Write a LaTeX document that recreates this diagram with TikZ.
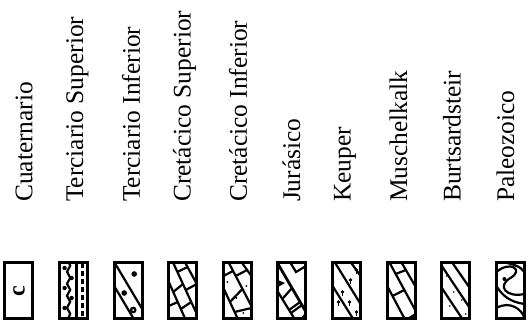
\documentclass[tikz,border=0pt]{standalone}
\usepackage{tikz}
\usepackage{fontspec}
\setmainfont{Liberation Serif}
\usetikzlibrary{positioning,decorations.pathmorphing}

\begin{document}
\begin{tikzpicture}[x=0.5pt,y=-0.5pt,
    every node/.style={inner sep=0pt},
    lab/.style={rotate=90,anchor=west,font=\fontsize{12.7}{15}\selectfont},
    rock/.style={draw,line width=1.5pt,minimum width=14pt,minimum height=28pt,outer sep=0pt},
    line width=1.1pt
  ]
  \useasboundingbox (0,0) rectangle (527,327);

  % the labels
  \foreach \t [count=\i] in {Cuaternario,Terciario Superior,Terciario Inferior,Cretácico Superior,Cretácico Inferior,Jurásico,Keuper,Muschelkalk,Burtsardsteir,Paleozoico}
    \node[lab] (l\i) at ({24+53.5*(\i-1)},203) {\t};

  % the boxes
  \foreach \i in {1,2,...,10}
    \node[rock] (b\i) at ({19+54.6*(\i-1)},290) {};

  % Cuaternario
  \begin{scope}[shift={(b1.north west)}]
    \node[rotate=90,font=\fontsize{12}{12}\selectfont\bfseries] (c1) at (14,29) {c};
  \end{scope}

  % Terciario Superior
  \begin{scope}[shift={(b2.north west)}]
    \clip (0,0) rectangle (28,56);
    \draw[decorate,decoration={snake,amplitude=0.8pt,segment length=6pt}] (9,0) -- (9,56);
    \foreach \x/\y in {5/6,12/16,5/26,12/36,5/46}
      \fill (\x,\y) circle (2.2);
    \draw (17,0) -- (17,56);
    \draw[dash pattern=on 2.5pt off 1.5pt] (23,1) -- (23,56);
  \end{scope}

  % Terciario Inferior
  \begin{scope}[shift={(b3.north west)}]
    \clip (0,0) rectangle (28,56);
    \draw (0,0) -- (28,47);
    \draw (0,24) -- (19,56);
    \fill (20,12) circle (2.8);
    \fill (10,31) circle (2.8);
    \draw (19,48) circle (2.2);
  \end{scope}

  % Cretacico Superior
  \begin{scope}[shift={(b4.north west)}]
    \clip (0,0) rectangle (28,56);
    \draw (4,0) -- (28,52);
    \draw (0,20) -- (16,56);
    \draw (16,0) -- (28,22);
    \draw (0,44) -- (8.9,40);
    \draw (4.4,30) -- (14.2,22);
    \draw (12,47) -- (22.5,40);
    \draw (16.9,28) -- (28,22);
    \draw (8.6,10) -- (18.7,5);
  \end{scope}

  % Cretacico Inferior
  \begin{scope}[shift={(b5.north west)}]
    \clip (0,0) rectangle (28,56);
    \draw (5,0) -- (28,44);
    \draw (0,26) -- (14,56);
    \draw (18,0) -- (28,14);
    \draw (0,14) -- (9.7,9);
    \draw (6.5,40) -- (19,27);
    \draw (11.2,50) -- (28,46);
    \draw (12.3,14) -- (23.7,8);
    \foreach \x/\y in {23/24,13/36,4/20,20/51}
      \fill (\x,\y) circle (1);
  \end{scope}

  % Jurasico
  \begin{scope}[shift={(b6.north west)}]
    \clip (0,0) rectangle (28,56);
    \draw[line width=1.4pt] (0,2) -- (28,50);
    \draw (0,30) -- (16,56);
    \draw (12,0) -- (18,10) -- (28,4);
    \draw (4.3,37) -- (14,26);
    \draw (11,48) -- (22.2,40);
    \draw (13,51) -- (24,43);
    \fill (0,18) -- (7,21) -- (0,25) -- cycle;
    \fill (28,50) -- (23,56) -- (28,56) -- cycle;
  \end{scope}

  % Keuper
  \begin{scope}[shift={(b7.north west)}]
    \clip (0,0) rectangle (28,56);
    \draw (2,0) -- (28,42);
    \draw (0,24) -- (20,56);
    \draw (18,0) -- (28,14);
    \foreach \x/\y in {18/18,24/8,10/30,17/40,24/50,6/40}
      {\fill (\x,\y) circle (1.9);
       \draw[line width=0.7pt] (\x,\y) -- (\x,\y+4);}
  \end{scope}

  % Muschelkalk
  \begin{scope}[shift={(b8.north west)}]
    \clip (0,0) rectangle (28,56);
    \draw (2,0) -- (28,48);
    \draw (0,24) -- (17,56);
    \draw (14,0) -- (28,24);
    \draw (5.3,34) -- (17.2,28);
    \draw (8.5,12) -- (18.7,8);
    \fill (20,56) -- (28,51) -- (28,56) -- cycle;
  \end{scope}

  % Burtsardsteir
  \begin{scope}[shift={(b9.north west)}]
    \clip (0,0) rectangle (28,56);
    \draw (0,4) -- (28,46);
    \draw (0,26) -- (20,56);
    \draw (10,0) -- (28,26);
    \foreach \x/\y in {20/14,12/30,20/38,8/44,24/52,5/14}
      \fill (\x,\y) circle (0.9);
  \end{scope}

  % Paleozoico
  \begin{scope}[shift={(b10.north west)}]
    \clip (0,0) rectangle (28,56);
    \draw (0,10) .. controls (14,-2) and (28,8) .. (14,16) .. controls (0,24) and (10,36) .. (28,32);
    \draw (0,24) .. controls (6,34) and (14,40) .. (28,42);
    \draw (6,0) .. controls (16,2) and (24,4) .. (28,10);
    \draw (0,46) .. controls (14,38) and (26,48) .. (28,56);
    \fill (8,17) circle (2);
  \end{scope}
\end{tikzpicture}
\end{document}
